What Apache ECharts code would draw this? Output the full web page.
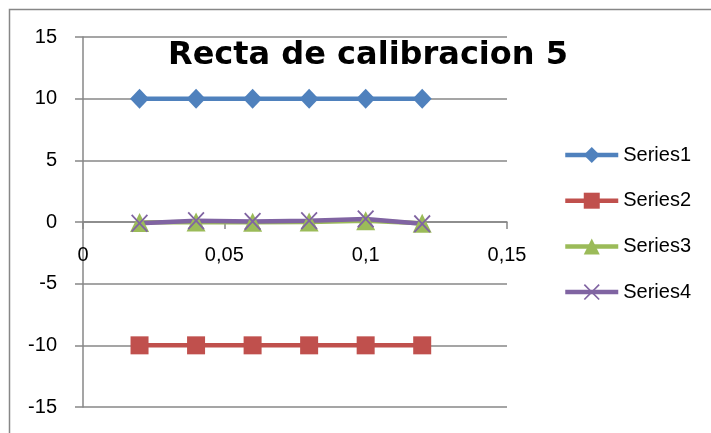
<!DOCTYPE html>
<html>
<head>
<meta charset="utf-8">
<script src="https://cdn.jsdelivr.net/npm/echarts@6/dist/echarts.min.js"></script>
<style>
  html, body { margin: 0; padding: 0; background: #fff; }
  #chart { width: 711px; height: 433px; }
</style>
</head>
<body>
<div id="chart"></div>
<script>
// Concentrations (x) and the four measured series
const xValues = [0.02, 0.04, 0.06, 0.08, 0.1, 0.12];
const series1 = [10, 10, 10, 10, 10, 10];
const series2 = [-10, -10, -10, -10, -10, -10];
const series3 = [-0.05, 0, -0.02, 0, 0.1, -0.1];
const series4 = [-0.1, 0.1, 0.05, 0.1, 0.25, -0.15];
const seriesNames = ['Series1', 'Series2', 'Series3', 'Series4'];
const chartTitle = 'Recta de calibracion 5';

const pairs = ys => xValues.map((x, i) => [x, ys[i]]);

// Thin "x" cross marker as a filled outline
const crossPath = 'path://M0,1.5 L1.5,0 L10,8.5 L18.5,0 L20,1.5 L11.5,10 L20,18.5 L18.5,20 L10,11.5 L1.5,20 L0,18.5 L8.5,10 Z';

const gray = '#878787';
const font = 'Liberation Sans, Arial, sans-serif';

// Plot box in pixels; the x axis is lifted from the bottom edge to y = 0
const plotTop = 37, plotBottom = 26, chartHeight = 433;
const yMin = -15, yMax = 15;
const plotH = chartHeight - plotTop - plotBottom;
const zeroLift = plotH * (0 - yMin) / (yMax - yMin);

const chart = echarts.init(document.getElementById('chart'), null, { renderer: 'canvas' });

function lineSeries(name, data, color, symbol, size) {
  return {
    name, type: 'line', data,
    symbol, symbolSize: size,
    itemStyle: { color },
    lineStyle: { color, width: 4.5 },
    emphasis: { disabled: true },
    z: 3
  };
}

chart.setOption({
  animation: false,
  backgroundColor: '#fff',
  grid: { left: 83, right: 204, top: plotTop, bottom: plotBottom, outerBoundsMode: 'none', containLabel: false },
  xAxis: {
    type: 'value', min: 0, max: 0.15, interval: 0.05,
    position: 'bottom',
    offset: -zeroLift,
    axisLine: { onZero: false, lineStyle: { color: gray, width: 1.5 } },
    axisTick: { show: true, inside: false, length: 7, lineStyle: { color: gray, width: 1.5 } },
    axisLabel: {
      margin: 23, color: '#000', fontFamily: font, fontSize: 20,
      formatter: v => String(v).replace('.', ',')
    },
    splitLine: { show: false }
  },
  yAxis: {
    type: 'value', min: yMin, max: yMax, interval: 5,
    axisLine: { show: true, onZero: false, lineStyle: { color: gray, width: 1.5 } },
    axisTick: { show: true, inside: false, length: 8, lineStyle: { color: gray, width: 1.5 } },
    axisLabel: { margin: 26, color: '#000', fontFamily: font, fontSize: 20 },
    splitLine: { show: true, lineStyle: { color: gray, width: 1.5 } }
  },
  legend: {
    orient: 'vertical',
    left: 558, top: 140,
    itemWidth: 53, itemHeight: 20, itemGap: 25.7,
    data: seriesNames,
    lineStyle: { width: 4.5 },
    textStyle: { color: '#000', fontFamily: font, fontSize: 20 }
  },
  graphic: [
    {
      type: 'rect', silent: true,
      shape: { x: 9.5, y: 9.5, width: 800, height: 500 },
      style: { fill: 'none', stroke: gray, lineWidth: 1.5 }
    },
    {
      type: 'text', silent: true, x: 368, y: 56, z: 10,
      style: {
        text: chartTitle, fill: '#000',
        font: 'bold 32px "DejaVu Sans", sans-serif',
        textAlign: 'center', textVerticalAlign: 'middle'
      }
    }
  ],
  series: [
    lineSeries(seriesNames[0], pairs(series1), '#4F81BD', 'diamond', [19, 20]),
    lineSeries(seriesNames[1], pairs(series2), '#C0504D', 'rect', 18),
    lineSeries(seriesNames[2], pairs(series3), '#9BBB59', 'triangle', 19),
    lineSeries(seriesNames[3], pairs(series4), '#8064A2', crossPath, [17, 18])
  ]
});
</script>
</body>
</html>
